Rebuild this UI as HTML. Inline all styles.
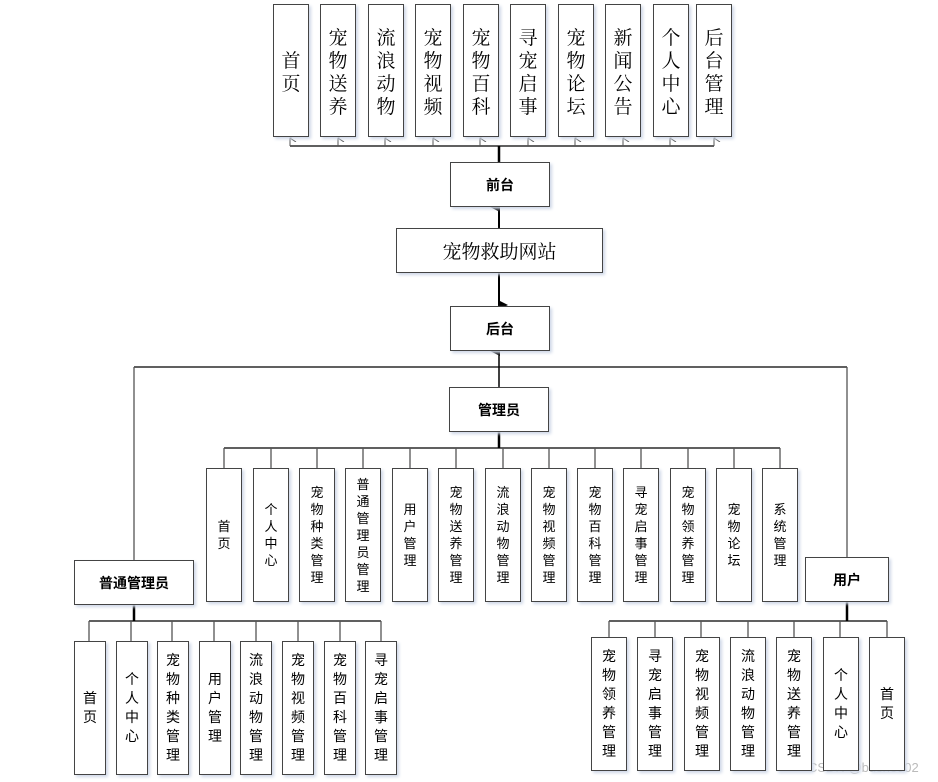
<!DOCTYPE html>
<html><head><meta charset="utf-8"><style>
body{margin:0;width:938px;height:782px;background:#fff;position:relative;overflow:hidden;font-family:"Liberation Sans","Noto Sans CJK SC",sans-serif;color:#000}
.b{position:absolute;box-sizing:border-box;border:1.5px solid #444;background:#fff;display:flex;align-items:center;justify-content:center;text-align:center;box-shadow:2px 2px 3px #cfd8e8}
.t{font-family:"Noto Serif CJK SC","Noto Sans CJK SC",serif;font-size:19px;line-height:23px}
.m{font-size:13px;line-height:17px}
.s{font-size:14px;line-height:19px}
.h{font-size:14px;font-weight:bold}
svg{position:absolute;left:0;top:0}
</style></head><body>
<svg width="938" height="782">
<defs><marker id="a" markerWidth="10" markerHeight="10" refX="5" refY="9" orient="auto-start-reverse" markerUnits="userSpaceOnUse"><path d="M0,10 L5,0 L10,10z" fill="#000"/></marker>
<marker id="o" markerWidth="10" markerHeight="8" refX="4" refY="1" orient="auto" markerUnits="userSpaceOnUse"><path d="M0,7 L4,1 L8,7" fill="none" stroke="#555"/></marker></defs>
<g stroke="#000" stroke-width="1.3" fill="none">
<line x1="290" y1="146" x2="714" y2="146"/>
<line x1="499" y1="146" x2="499" y2="162" stroke-width="2.5"/>
<g stroke="#555" stroke-width="1"><line x1="290" y1="146" x2="290" y2="138" marker-end="url(#o)"/><line x1="338" y1="146" x2="338" y2="138" marker-end="url(#o)"/><line x1="385" y1="146" x2="385" y2="138" marker-end="url(#o)"/><line x1="433" y1="146" x2="433" y2="138" marker-end="url(#o)"/><line x1="480" y1="146" x2="480" y2="138" marker-end="url(#o)"/><line x1="528" y1="146" x2="528" y2="138" marker-end="url(#o)"/><line x1="575" y1="146" x2="575" y2="138" marker-end="url(#o)"/><line x1="623" y1="146" x2="623" y2="138" marker-end="url(#o)"/><line x1="670" y1="146" x2="670" y2="138" marker-end="url(#o)"/><line x1="714" y1="146" x2="714" y2="138" marker-end="url(#o)"/></g>
<line x1="499" y1="228" x2="499" y2="207" stroke-width="2" marker-end="url(#a)"/>
<line x1="499" y1="272" x2="499" y2="305" stroke-width="2" marker-end="url(#a)"/>
<line x1="499" y1="387" x2="499" y2="351" stroke-width="1.5" marker-end="url(#a)"/>
<line x1="134" y1="367" x2="847" y2="367"/>
<line x1="134" y1="367" x2="134" y2="560" stroke="#555"/>
<line x1="847" y1="367" x2="847" y2="557" stroke="#555"/>
<line x1="499" y1="431" x2="499" y2="448" stroke-width="2.5"/>
<line x1="224" y1="448" x2="780" y2="448"/>
<g stroke="#555"><line x1="224" y1="448" x2="224" y2="468"/><line x1="271" y1="448" x2="271" y2="468"/><line x1="317" y1="448" x2="317" y2="468"/><line x1="363" y1="448" x2="363" y2="468"/><line x1="410" y1="448" x2="410" y2="468"/><line x1="456" y1="448" x2="456" y2="468"/><line x1="503" y1="448" x2="503" y2="468"/><line x1="549" y1="448" x2="549" y2="468"/><line x1="595" y1="448" x2="595" y2="468"/><line x1="641" y1="448" x2="641" y2="468"/><line x1="688" y1="448" x2="688" y2="468"/><line x1="734" y1="448" x2="734" y2="468"/><line x1="780" y1="448" x2="780" y2="468"/></g>
<line x1="134" y1="604" x2="134" y2="621" stroke-width="2.5"/>
<line x1="89" y1="621" x2="381" y2="621"/>
<g stroke="#555"><line x1="89" y1="621" x2="89" y2="641"/><line x1="131" y1="621" x2="131" y2="641"/><line x1="172" y1="621" x2="172" y2="641"/><line x1="214" y1="621" x2="214" y2="641"/><line x1="256" y1="621" x2="256" y2="641"/><line x1="298" y1="621" x2="298" y2="641"/><line x1="340" y1="621" x2="340" y2="641"/><line x1="381" y1="621" x2="381" y2="641"/></g>
<line x1="847" y1="601" x2="847" y2="621" stroke-width="2.5"/>
<line x1="609" y1="621" x2="887" y2="621"/>
<g stroke="#555"><line x1="609" y1="621" x2="609" y2="637"/><line x1="655" y1="621" x2="655" y2="637"/><line x1="701" y1="621" x2="701" y2="637"/><line x1="748" y1="621" x2="748" y2="637"/><line x1="794" y1="621" x2="794" y2="637"/><line x1="840" y1="621" x2="840" y2="637"/><line x1="887" y1="621" x2="887" y2="637"/></g>
</g>
<text x="808" y="772" font-family="Liberation Sans" font-size="13" fill="#bbb">CSDN @bushe902</text>
</svg>

<div class="b t" style="left:273px;top:4px;width:36px;height:133px">首<br>页</div>
<div class="b t" style="left:320px;top:4px;width:36px;height:133px">宠<br>物<br>送<br>养</div>
<div class="b t" style="left:368px;top:4px;width:36px;height:133px">流<br>浪<br>动<br>物</div>
<div class="b t" style="left:415px;top:4px;width:36px;height:133px">宠<br>物<br>视<br>频</div>
<div class="b t" style="left:463px;top:4px;width:36px;height:133px">宠<br>物<br>百<br>科</div>
<div class="b t" style="left:510px;top:4px;width:36px;height:133px">寻<br>宠<br>启<br>事</div>
<div class="b t" style="left:558px;top:4px;width:36px;height:133px">宠<br>物<br>论<br>坛</div>
<div class="b t" style="left:605px;top:4px;width:36px;height:133px">新<br>闻<br>公<br>告</div>
<div class="b t" style="left:653px;top:4px;width:36px;height:133px">个<br>人<br>中<br>心</div>
<div class="b t" style="left:696px;top:4px;width:36px;height:133px">后<br>台<br>管<br>理</div>

<div class="b h" style="left:450px;top:162px;width:100px;height:45px">前台</div>
<div class="b t" style="left:396px;top:228px;width:207px;height:45px">宠物救助网站</div>
<div class="b h" style="left:450px;top:306px;width:100px;height:45px">后台</div>
<div class="b h" style="left:449px;top:387px;width:100px;height:45px">管理员</div>

<div class="b m" style="left:206px;top:468px;width:36px;height:134px">首<br>页</div>
<div class="b m" style="left:253px;top:468px;width:36px;height:134px">个<br>人<br>中<br>心</div>
<div class="b m" style="left:299px;top:468px;width:36px;height:134px">宠<br>物<br>种<br>类<br>管<br>理</div>
<div class="b m" style="left:345px;top:468px;width:36px;height:134px">普<br>通<br>管<br>理<br>员<br>管<br>理</div>
<div class="b m" style="left:392px;top:468px;width:36px;height:134px">用<br>户<br>管<br>理</div>
<div class="b m" style="left:438px;top:468px;width:36px;height:134px">宠<br>物<br>送<br>养<br>管<br>理</div>
<div class="b m" style="left:485px;top:468px;width:36px;height:134px">流<br>浪<br>动<br>物<br>管<br>理</div>
<div class="b m" style="left:531px;top:468px;width:36px;height:134px">宠<br>物<br>视<br>频<br>管<br>理</div>
<div class="b m" style="left:577px;top:468px;width:36px;height:134px">宠<br>物<br>百<br>科<br>管<br>理</div>
<div class="b m" style="left:623px;top:468px;width:36px;height:134px">寻<br>宠<br>启<br>事<br>管<br>理</div>
<div class="b m" style="left:670px;top:468px;width:36px;height:134px">宠<br>物<br>领<br>养<br>管<br>理</div>
<div class="b m" style="left:716px;top:468px;width:36px;height:134px">宠<br>物<br>论<br>坛</div>
<div class="b m" style="left:762px;top:468px;width:36px;height:134px">系<br>统<br>管<br>理</div>

<div class="b h" style="left:74px;top:560px;width:120px;height:45px">普通管理员</div>
<div class="b s" style="left:74px;top:641px;width:32px;height:134px">首<br>页</div>
<div class="b s" style="left:116px;top:641px;width:32px;height:134px">个<br>人<br>中<br>心</div>
<div class="b s" style="left:157px;top:641px;width:32px;height:134px">宠<br>物<br>种<br>类<br>管<br>理</div>
<div class="b s" style="left:199px;top:641px;width:32px;height:134px">用<br>户<br>管<br>理</div>
<div class="b s" style="left:240px;top:641px;width:32px;height:134px">流<br>浪<br>动<br>物<br>管<br>理</div>
<div class="b s" style="left:282px;top:641px;width:32px;height:134px">宠<br>物<br>视<br>频<br>管<br>理</div>
<div class="b s" style="left:324px;top:641px;width:32px;height:134px">宠<br>物<br>百<br>科<br>管<br>理</div>
<div class="b s" style="left:365px;top:641px;width:32px;height:134px">寻<br>宠<br>启<br>事<br>管<br>理</div>

<div class="b h" style="left:805px;top:557px;width:84px;height:45px">用户</div>
<div class="b s" style="left:591px;top:637px;width:36px;height:134px">宠<br>物<br>领<br>养<br>管<br>理</div>
<div class="b s" style="left:637px;top:637px;width:36px;height:134px">寻<br>宠<br>启<br>事<br>管<br>理</div>
<div class="b s" style="left:684px;top:637px;width:36px;height:134px">宠<br>物<br>视<br>频<br>管<br>理</div>
<div class="b s" style="left:730px;top:637px;width:36px;height:134px">流<br>浪<br>动<br>物<br>管<br>理</div>
<div class="b s" style="left:776px;top:637px;width:36px;height:134px">宠<br>物<br>送<br>养<br>管<br>理</div>
<div class="b s" style="left:823px;top:637px;width:36px;height:134px">个<br>人<br>中<br>心</div>
<div class="b s" style="left:869px;top:637px;width:36px;height:134px">首<br>页</div>
</body></html>
